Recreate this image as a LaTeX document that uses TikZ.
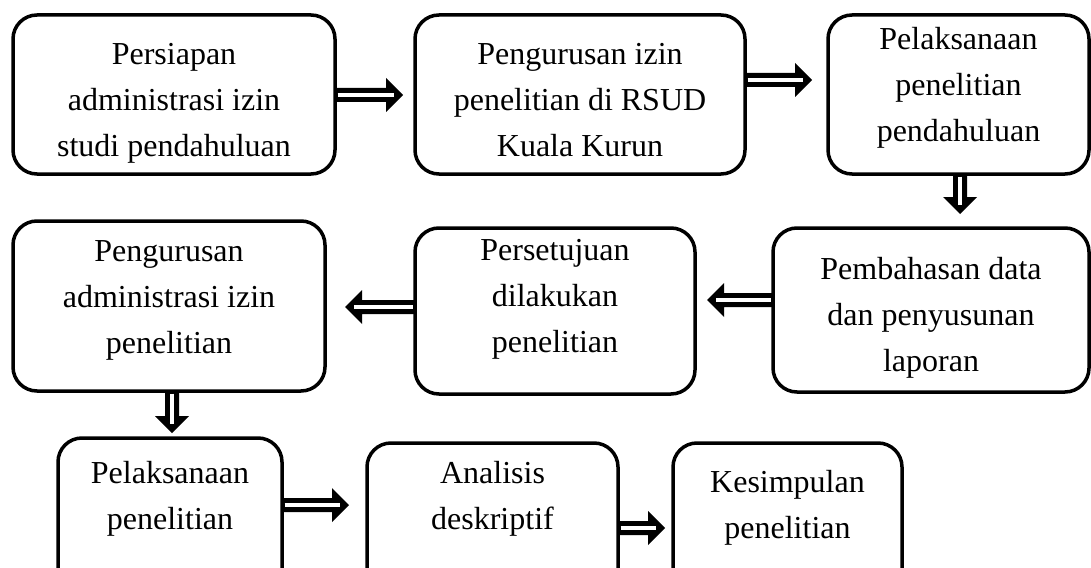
\documentclass[tikz,border=0pt]{standalone}
\usepackage{fontspec}
\setmainfont{Liberation Serif}
\usetikzlibrary{calc}
\newcommand\blockarrow[3]{%
  \fill[shift={#1}, rotate=#2] (0,-7) -- ({#3-17},-7) -- ({#3-17},-17) -- (#3,0) -- ({#3-17},17) -- ({#3-17},7) -- (0,7) -- cycle;
  \draw[arrowcore, shift={#1}, rotate=#2] (2.5,0) -- ({#3-9},0);}
\begin{document}
\begin{tikzpicture}[x=1pt,y=-1pt,
  box/.style={draw, line width=3.5pt, rounded corners=24pt, inner sep=0pt, outer sep=0pt},
  txt/.style={align=center, font=\fontsize{32}{46}\selectfont, inner sep=0pt},
  arrowcore/.style={draw=white, line width=4.5pt}]
\useasboundingbox (0,0) rectangle (1091,567);
\clip (0,0) rectangle (1091,567);
% boxes
\node[box, minimum width=322pt, minimum height=159pt] (b1) at (174,94.5) {};
\node[box, minimum width=330pt, minimum height=159pt] (b2) at (580,94.5) {};
\node[box, minimum width=261pt, minimum height=159pt] (b3) at (958.5,94.5) {};
\node[box, minimum width=316pt, minimum height=164pt] (b4) at (931,310) {};
\node[box, minimum width=280pt, minimum height=166pt] (b5) at (555,311) {};
\node[box, minimum width=312pt, minimum height=170pt] (b6) at (169,306) {};
\node[box, minimum width=224pt, minimum height=162pt] (b7) at (170,519) {};
\node[box, minimum width=251pt, minimum height=157pt] (b8) at (492.5,521.5) {};
\node[box, minimum width=229pt, minimum height=157pt] (b9) at (787.5,521.5) {};
% texts
\node[txt] (t1) at (174,100.8) {\strut Persiapan\\ \strut administrasi izin\\ \strut studi pendahuluan};
\node[txt] (t2) at (580,100.8) {\strut Pengurusan izin\\ \strut penelitian di RSUD\\ \strut Kuala Kurun};
\node[txt] (t3) at (958.5,86) {\strut Pelaksanaan\\ \strut penelitian\\ \strut pendahuluan};
\node[txt] (t4) at (931,316) {\strut Pembahasan data\\ \strut dan penyusunan\\ \strut laporan};
\node[txt] (t5) at (555,297.5) {\strut Persetujuan\\ \strut dilakukan\\ \strut penelitian};
\node[txt] (t6) at (169,297.8) {\strut Pengurusan\\ \strut administrasi izin\\ \strut penelitian};
\node[txt] (t7) at (170,497) {\strut Pelaksanaan\\ \strut penelitian};
\node[txt] (t8) at (492.5,497) {\strut Analisis\\ \strut deskriptif};
\node[txt] (t9) at (787.5,506) {\strut Kesimpulan\\ \strut penelitian};
% arrows
\blockarrow{($(b1.east)+(0,0.5)$)}{0}{68}
\blockarrow{($(b2.east)+(0,-14.5)$)}{0}{67}
\blockarrow{($(b3.south)+(1.5,0)$)}{-90}{40}
\blockarrow{($(b4.west)+(0,-10)$)}{180}{66}
\blockarrow{($(b5.west)+(0,-4)$)}{180}{70}
\blockarrow{($(b6.south)+(3,0)$)}{-90}{42}
\blockarrow{($(b7.east)+(0,-14)$)}{0}{67}
\blockarrow{($(b8.east)+(0,6.5)$)}{0}{47}
\end{tikzpicture}
\end{document}
